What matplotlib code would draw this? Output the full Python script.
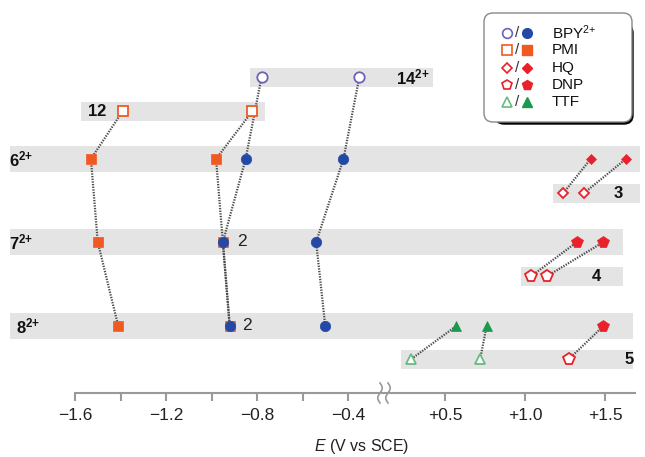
import numpy as np
import matplotlib
matplotlib.use("Agg")
import matplotlib.pyplot as plt
from matplotlib.patches import FancyBboxPatch
from matplotlib.ticker import FixedLocator, FixedFormatter, NullFormatter

plt.rcParams['font.family'] = ['Liberation Sans', 'DejaVu Sans']
plt.rcParams['mathtext.fontset'] = 'custom'
plt.rcParams['mathtext.rm'] = 'Liberation Sans'
plt.rcParams['mathtext.it'] = 'Liberation Sans:italic'
plt.rcParams['mathtext.bf'] = 'Liberation Sans:bold'

# potentials in V vs SCE, first entry is the free component (open marker)
bpy_rows = ['14', '6', '7', '8']
bpy_first = [-0.78, -0.85, -0.95, -0.92]
bpy_second = [-0.35, -0.42, -0.54, -0.50]

pmi_rows = ['12', '6', '7', '8']
pmi_first = [-1.39, -1.53, -1.50, -1.41]
pmi_second = [-0.82, -0.98, -0.95, -0.92]

hq_rows = ['3', '6']
hq_first = [1.24, 1.41]
hq_second = [1.37, 1.63]

dnp_rows = ['4', '7']
dnp_first = [1.04, 1.325]
dnp_second = [1.14, 1.49]

dnp5_rows = ['5', '8']
dnp5 = [1.275, 1.49]

ttf_rows = ['5', '8']
ttf_first = [0.29, 0.57]
ttf_second = [0.72, 0.76]

row_names = ['14', '12', '6', '3', '7', '4', '8', '5']
row_text = [r'$\mathbf{14^{2{+}}}$', r'$\mathbf{12}$', r'$\mathbf{6^{2{+}}}$', r'$\mathbf{3}$',
            r'$\mathbf{7^{2{+}}}$', r'$\mathbf{4}$', r'$\mathbf{8^{2{+}}}$', r'$\mathbf{5}$']

tick_vals = [-1.6, -1.2, -0.8, -0.4, 0.5, 1.0, 1.5]
tick_text = ['\u22121.6', '\u22121.2', '\u22120.8', '\u22120.4', '+0.5', '+1.0', '+1.5']
minor_vals = [-1.4, -1.0, -0.6]

# ---- layout -------------------------------------------------------------
row_y = {'14': 77, '12': 111, '6': 159, '3': 193, '7': 242, '4': 276, '8': 326, '5': 359}
main_rows = ['6', '7', '8']
band_span = {'14': (-0.83, 0.425), '12': (-1.574, -0.765), '6': (-1.886, 1.72),
             '3': (1.175, 1.72), '7': (-1.886, 1.61), '4': (0.975, 1.61),
             '8': (-1.886, 1.675), '5': (0.225, 1.675)}
label_pos = {'14': (0.405, 'right'), '12': (-1.547, 'left'), '6': (-1.89, 'left'),
             '3': (1.55, 'left'), '7': (-1.89, 'left'), '4': (1.41, 'left'),
             '8': (-1.86, 'left'), '5': (1.62, 'left')}

# broken axis: two linear pieces joined in a narrow gap (units = pixels)
E1 = -1.6 + (382 - 75) / 227.5
E2 = 0.5 + (388 - 445) / 160.0


def fwd(e):
    e = np.asarray(e, dtype=float)
    left = 75 + (e + 1.6) * 227.5
    right = 445 + (e - 0.5) * 160.0
    mid = 382 + (e - E1) * 6.0 / (E2 - E1)
    return np.where(e <= E1, left, np.where(e >= E2, right, mid))


def inv(u):
    u = np.asarray(u, dtype=float)
    left = -1.6 + (u - 75) / 227.5
    right = 0.5 + (u - 445) / 160.0
    mid = E1 + (u - 382) * (E2 - E1) / 6.0
    return np.where(u <= 382, left, np.where(u >= 388, right, mid))


fig = plt.figure(figsize=(6.45, 4.57), dpi=100)
ax = fig.add_axes([0, 0, 1, 1])
ax.set_xscale('function', functions=(fwd, inv))
ax.set_xlim(float(inv(0)), float(inv(645)))
ax.set_ylim(457, 0)

# grey bands
for r in row_names:
    lo, hi = band_span[r]
    h = 26 if r in main_rows else 19
    ax.barh(row_y[r], hi - lo, left=lo, height=h, color='#e4e4e4', zorder=0)

# row labels
for r, t in zip(row_names, row_text):
    x, ha = label_pos[r]
    ax.text(x, row_y[r], t, ha=ha, va='center', fontsize=12, color='#111')

ax.text(-0.888, row_y['7'], '2', ha='left', va='center', fontsize=12.5, color='#222')
ax.text(-0.866, row_y['8'], '2', ha='left', va='center', fontsize=12.5, color='#222')

line_kw = dict(color='#4a4a4a', lw=1.6, ls=(0, (0.6, 0.6)), zorder=2)

blue, blue_open = '#2448a6', '#6b63b5'
orange = '#f05a22'
red = '#e8212a'
green, green_open = '#1a9a4c', '#66bb80'


def chain(rows, vals, marker, ms, fc, ec_open):
    ys = [row_y[r] for r in rows]
    ax.plot(vals, ys, **line_kw)
    ax.plot(vals[:1], ys[:1], ls='none', marker=marker, ms=ms, mfc='white',
            mec=ec_open, mew=1.3, zorder=4)
    ax.plot(vals[1:], ys[1:], ls='none', marker=marker, ms=ms, mfc=fc,
            mec=fc, mew=0.5, zorder=4)


chain(pmi_rows, pmi_first, 's', 7.5, orange, orange)
chain(pmi_rows, pmi_second, 's', 7.5, orange, orange)
chain(bpy_rows, bpy_first, 'o', 7.5, blue, blue_open)
chain(bpy_rows, bpy_second, 'o', 7.5, blue, blue_open)
chain(hq_rows, hq_first, 'D', 5, red, red)
chain(hq_rows, hq_second, 'D', 5, red, red)
chain(dnp_rows, dnp_first, 'p', 8.5, red, red)
chain(dnp_rows, dnp_second, 'p', 8.5, red, red)
chain(dnp5_rows, dnp5, 'p', 8.5, red, red)
chain(ttf_rows, ttf_first, '^', 7, green, green_open)
chain(ttf_rows, ttf_second, '^', 7, green, green_open)

# x axis
for s in ['top', 'left', 'right']:
    ax.spines[s].set_visible(False)
ax.spines['bottom'].set_position(('data', 393))
ax.spines['bottom'].set_bounds(-1.6, 1.69)
ax.spines['bottom'].set_color('#999999')
ax.spines['bottom'].set_linewidth(1.5)
ax.xaxis.set_major_locator(FixedLocator(tick_vals))
ax.xaxis.set_major_formatter(FixedFormatter(tick_text))
ax.xaxis.set_minor_locator(FixedLocator(minor_vals))
ax.xaxis.set_minor_formatter(NullFormatter())
ax.tick_params(axis='x', which='both', direction='out', length=6, width=1.5,
               color='#999999', labelsize=12.5, labelcolor='#222', pad=5)
ax.set_yticks([])
ax.patch.set_alpha(0)

# overlay in pixel coordinates for decorations
lay = fig.add_axes([0, 0, 1, 1])
lay.set_xlim(0, 645)
lay.set_ylim(457, 0)
lay.axis('off')

yy = np.linspace(383, 403, 40)
for xc in (380, 388):
    lay.plot(xc + 2.2 * np.sin((yy - 383) / 20 * 2 * np.pi), yy, color='#999999', lw=1.2)

lay.text(362, 446, r'$E$ (V vs SCE)', ha='center', va='center', fontsize=11.5, color='#222')

# legend box with drop shadow
lay.add_patch(FancyBboxPatch((489 + 6, 18 + 6), 138, 100, boxstyle='round,pad=0,rounding_size=9',
                             fc='black', ec='black', lw=1, zorder=5))
lay.add_patch(FancyBboxPatch((484, 13), 148, 109, boxstyle='round,pad=0,rounding_size=9',
                             fc='white', ec='#888888', lw=1, zorder=6))

leg_items = [('o', 7, blue, blue_open, r'BPY$^{2{+}}$'),
             ('s', 6.5, orange, orange, 'PMI'),
             ('D', 5, red, red, 'HQ'),
             ('p', 7.5, red, red, 'DNP'),
             ('^', 6.5, green, green_open, 'TTF')]
for i, (m, ms, fc, eo, lab) in enumerate(leg_items):
    y = 33 + i * 17.3
    lay.plot([507], [y], marker=m, ms=ms, mfc='white', mec=eo, mew=1.2, zorder=7)
    lay.text(517, y, '/', ha='center', va='center', fontsize=11, color='#333', zorder=7)
    lay.plot([527], [y], marker=m, ms=ms, mfc=fc, mec=fc, zorder=7)
    lay.text(552, y, lab, ha='left', va='center', fontsize=11, color='#111', zorder=7)

fig.savefig('out.png', dpi=100)
